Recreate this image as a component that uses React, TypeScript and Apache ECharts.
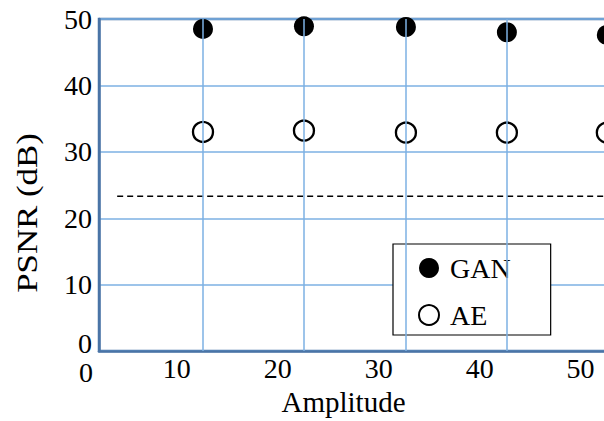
import React, { useEffect, useRef } from "react";
import * as echarts from "echarts";

const amplitudes = [12.6, 22.6, 32.7, 42.7, 52.6];
const ganPsnr = [48.5, 48.9, 48.8, 48.0, 47.6];
const aePsnr = [33.0, 33.2, 32.9, 32.9, 32.9];
const thresholdPsnr = 23.3;
const thresholdRange = [4.1, 60];
const xTickLabels = [10, 20, 30, 40, 50];
const xRange = [2.3, 54.3];
const yRange = [0, 50];

const FONT = "'Liberation Serif', 'DejaVu Serif', serif";
const AXIS_COLOR = "#4a74a6";
const GRID_COLOR = "#7db0e3";

export default function App() {
  const ref = useRef<HTMLDivElement>(null);
  useEffect(() => {
    if (!ref.current) return;
    const chart = echarts.init(ref.current, undefined, { renderer: "svg" });
    chart.setOption({
      animation: false,
      backgroundColor: "#ffffff",
      grid: {
        left: 99,
        top: 19,
        right: 0,
        bottom: 65,
        show: true,
        borderColor: AXIS_COLOR,
        borderWidth: 2.5,
        backgroundColor: "transparent",
      },
      xAxis: {
        type: "value",
        min: xRange[0],
        max: xRange[1],
        name: "Amplitude",
        nameLocation: "middle",
        nameGap: 34,
        nameTextStyle: {
          fontFamily: FONT,
          fontSize: 29,
          color: "#000",
          padding: [0, 36, 0, 0],
        },
        axisLine: { show: true, lineStyle: { color: AXIS_COLOR, width: 2.5 } },
        axisTick: { show: false },
        splitLine: { show: false },
        axisLabel: {
          customValues: xTickLabels,
          fontFamily: FONT,
          fontSize: 28,
          color: "#000",
          margin: 3,
        },
      },
      yAxis: {
        type: "value",
        min: yRange[0],
        max: yRange[1],
        interval: 10,
        axisLine: { show: true, lineStyle: { color: AXIS_COLOR, width: 2.5 } },
        axisTick: { show: false },
        splitLine: { show: true, lineStyle: { color: GRID_COLOR, width: 1.5 } },
        axisLabel: {
          fontFamily: FONT,
          fontSize: 28,
          color: "#000",
          margin: 7,
          formatter: (v: number) => (v === 0 ? "{z|0}" : String(v)),
          rich: {
            z: {
              fontFamily: FONT,
              fontSize: 28,
              color: "#000",
              padding: [0, 0, 16, 0],
            },
          },
        },
      },
      legend: {
        data: ["GAN", "AE"],
        orient: "vertical",
        left: 393,
        top: 244,
        padding: [10, 40, 6, 25],
        itemGap: 19,
        itemWidth: 20,
        itemHeight: 20,
        backgroundColor: "#ffffff",
        borderColor: "#000",
        borderWidth: 1.2,
        borderRadius: 0,
        textStyle: {
          fontFamily: FONT,
          fontSize: 28,
          lineHeight: 27,
          color: "#000",
          padding: [0, 0, 0, 6],
        },
      },
      graphic: [
        {
          type: "text",
          x: 86,
          y: 372,
          silent: true,
          style: {
            text: "0",
            fontFamily: FONT,
            fontSize: 28,
            fill: "#000",
            align: "center",
            verticalAlign: "middle",
          },
        },
        {
          type: "text",
          x: 27,
          y: 213,
          rotation: Math.PI / 2,
          scaleX: 1.2,
          silent: true,
          style: {
            text: "PSNR (dB)",
            fontFamily: FONT,
            fontSize: 29,
            fill: "#000",
            align: "center",
            verticalAlign: "middle",
          },
        },
      ],
      series: [
        {
          name: "threshold",
          type: "line",
          z: 1,
          silent: true,
          symbol: "none",
          data: thresholdRange.map((x) => [x, thresholdPsnr]),
          lineStyle: { color: "#000", width: 1.5, type: [6, 4] },
          markLine: {
            silent: true,
            symbol: "none",
            label: { show: false },
            lineStyle: { color: GRID_COLOR, width: 1.5, type: "solid" },
            data: amplitudes.map((x) => ({ xAxis: x })),
          },
        },
        {
          name: "GAN",
          type: "scatter",
          z: 3,
          symbol: "circle",
          symbolSize: 20,
          clip: false,
          itemStyle: { color: "#000", opacity: 1 },
          data: amplitudes.map((x, i) => [x, ganPsnr[i]]),
        },
        {
          name: "AE",
          type: "scatter",
          z: 3,
          symbol: "circle",
          symbolSize: 20,
          clip: false,
          itemStyle: { color: "rgba(0,0,0,0)", borderColor: "#000", borderWidth: 2.3, opacity: 1 },
          data: amplitudes.map((x, i) => [x, aePsnr[i]]),
        },
      ],
    });
    return () => chart.dispose();
  }, []);
  return (
    <div
      ref={ref}
      style={{ position: "fixed", left: 0, top: 0, width: 624, height: 421, background: "#fff" }}
    />
  );
}
